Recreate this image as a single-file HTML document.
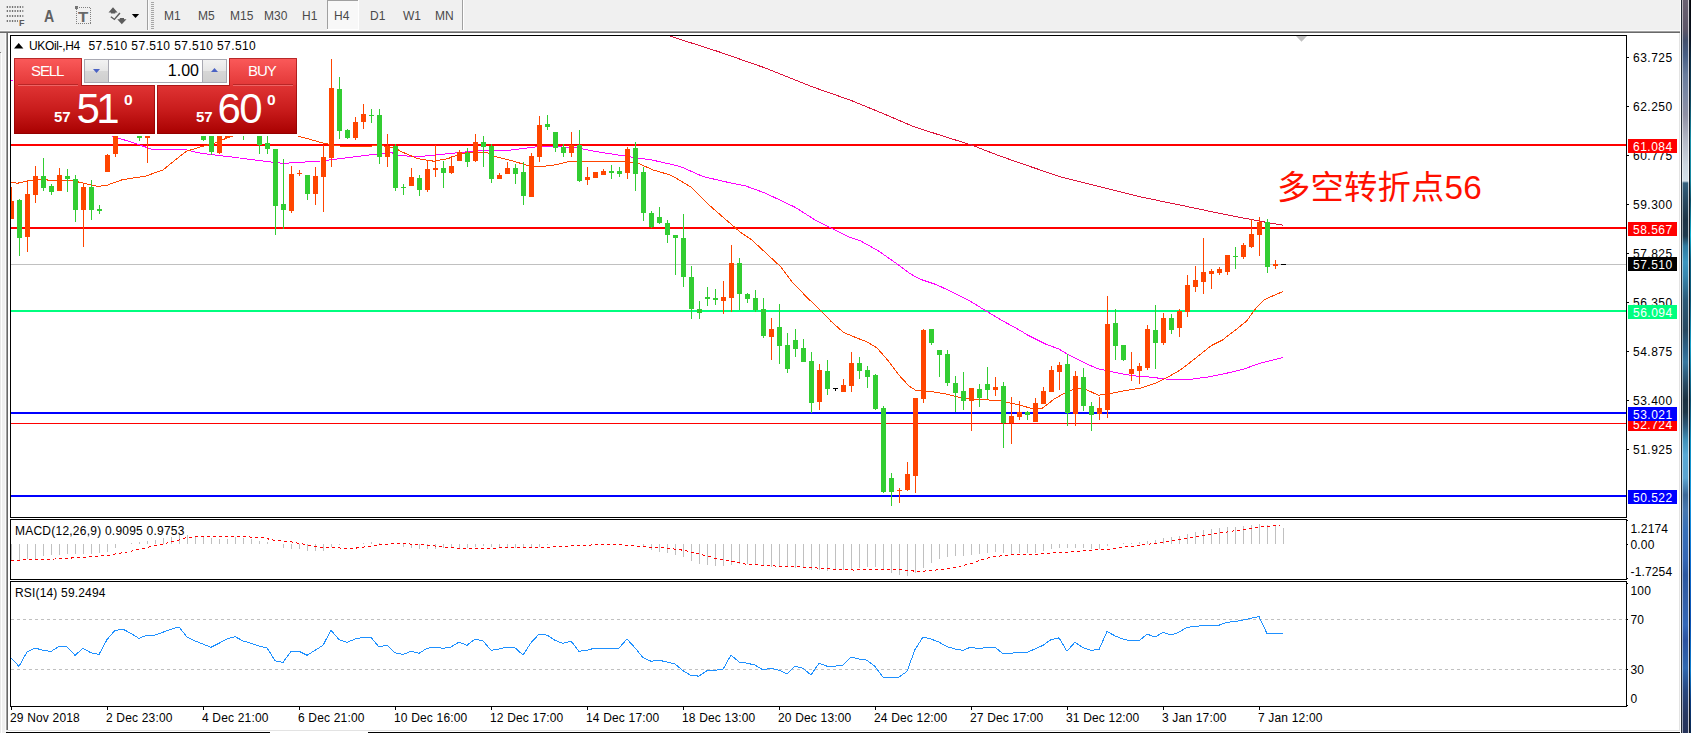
<!DOCTYPE html>
<html><head><meta charset="utf-8"><title>UKOil H4</title>
<style>
html,body{margin:0;padding:0}
body{width:1691px;height:733px;overflow:hidden;background:#f0f0f0;position:relative;font-family:"Liberation Sans",sans-serif}
.abs{position:absolute}
.ax text{font-family:"Liberation Sans",sans-serif;font-size:12px;fill:#000}
.axw text{font-family:"Liberation Sans",sans-serif;font-size:12px;fill:#fff;letter-spacing:0.5px}
.num text{letter-spacing:0.5px}
.lab text{letter-spacing:0.17px}
.tf{position:absolute;top:9px;font-size:12px;color:#4a4a4a;line-height:14px;white-space:nowrap}
.pn{position:absolute;color:#fff;white-space:nowrap}
</style></head><body>
<!-- toolbar -->
<div class="abs" style="left:0;top:30px;width:1681px;height:1px;background:#fafafa"></div>
<div class="abs" style="left:0;top:31px;width:1681px;height:1px;background:#a0a0a0"></div>
<div class="abs" style="left:0;top:32px;width:1681px;height:1px;background:#696969"></div>
<!-- chart window -->
<div class="abs" style="left:0;top:33px;width:5px;height:700px;background:#f0f0f0"></div>
<div class="abs" style="left:5px;top:33px;width:1px;height:699px;background:#fafafa"></div>
<div class="abs" style="left:6px;top:33px;width:1px;height:697px;background:#a0a0a0"></div>
<div class="abs" style="left:7px;top:33px;width:1px;height:697px;background:#696969"></div>
<div class="abs" style="left:8px;top:33px;width:1673px;height:699px;background:#fff"></div>
<div class="abs" style="left:0;top:53px;width:1px;height:680px;background:#e8e8e8"></div>
<div class="abs" style="left:0;top:52px;width:1px;height:1px;background:#808080"></div>
<div class="abs" style="left:1px;top:53px;width:1px;height:680px;background:#fff"></div>
<div class="abs" style="left:1679px;top:33px;width:1px;height:698px;background:#e3e3e3"></div>
<!-- bottom lines -->
<div class="abs" style="left:8px;top:730px;width:1672px;height:1px;background:#e3e3e3"></div>
<div class="abs" style="left:6px;top:732px;width:264px;height:1px;background:#000"></div>
<div class="abs" style="left:270px;top:732px;width:98px;height:1px;background:#fff"></div>
<div class="abs" style="left:368px;top:732px;width:1313px;height:1px;background:#000"></div>
<!-- toolbar items -->

<svg class="abs" style="left:0;top:0" width="480" height="32" shape-rendering="crispEdges">
<g stroke="#747474" stroke-width="2" stroke-dasharray="1.300 1.300" shape-rendering="auto">
<line x1="6.700" y1="7" x2="23.300" y2="7"/><line x1="6.700" y1="11" x2="23.300" y2="11"/><line x1="6.700" y1="16" x2="23.300" y2="16"/><line x1="6.700" y1="21" x2="18" y2="21"/>
</g>
<rect x="75" y="6" width="2.500" height="2.500" fill="#747474"/>
<g fill="none" stroke="#808080" stroke-dasharray="1 1"><rect x="76.500" y="7.500" width="14" height="16"/></g>
<g fill="#5c5c5c" shape-rendering="auto"><path d="M113 7.300L117.600 12.400H115.300V13.600H110.900V12.400H108.500Z"/><path d="M121.800 24.200L126.500 19.300H124V18H119.800V19.300H117.300Z"/><path d="M111.300 16.200L114.300 18.500L119.300 12.600L120.500 13.500L114.500 20.300L110.400 17.200Z"/></g>
<path d="M131.800 14H139.200L135.500 18.100Z" fill="#000" shape-rendering="auto"/>
<rect x="147" y="0" width="1" height="30" fill="#a0a0a0"/><rect x="148" y="0" width="1" height="30" fill="#fbfbfb"/>
<g fill="#a6a6a6"><rect x="151" y="2" width="3" height="1"/><rect x="151" y="4" width="3" height="1"/><rect x="151" y="6" width="3" height="1"/><rect x="151" y="8" width="3" height="1"/><rect x="151" y="10" width="3" height="1"/><rect x="151" y="12" width="3" height="1"/><rect x="151" y="14" width="3" height="1"/><rect x="151" y="16" width="3" height="1"/><rect x="151" y="18" width="3" height="1"/><rect x="151" y="20" width="3" height="1"/><rect x="151" y="22" width="3" height="1"/><rect x="151" y="24" width="3" height="1"/><rect x="151" y="26" width="3" height="1"/><rect x="151" y="28" width="3" height="1"/></g>
<rect x="328" y="1" width="30" height="28" fill="#f8f8f8"/><rect x="327" y="0" width="1" height="29" fill="#a0a0a0"/><rect x="327" y="0" width="31" height="1" fill="#a0a0a0"/><rect x="358" y="0" width="1" height="30" fill="#fff"/><rect x="327" y="29" width="32" height="1" fill="#fff"/>
<rect x="462" y="0" width="1" height="30" fill="#a0a0a0"/><rect x="463" y="0" width="1" height="30" fill="#fff"/>
</svg>
<div class="tf" style="left:19px;top:18.400px;font-size:9px;font-weight:bold;line-height:10px;color:#5a5a5a">F</div>
<div class="tf" style="left:44px;top:8px;font-size:16px;font-weight:bold;line-height:18px;color:#606060;transform:scaleX(0.88);transform-origin:0 0">A</div>
<div class="tf" style="left:78.200px;top:8.650px;font-size:14px;font-weight:bold;line-height:16px;color:#686868;transform:scaleX(1.2);transform-origin:0 0">T</div>
<div class="tf" style="left:164px">M1</div><div class="tf" style="left:198px">M5</div><div class="tf" style="left:230px">M15</div><div class="tf" style="left:264px">M30</div><div class="tf" style="left:302px">H1</div><div class="tf" style="left:334px">H4</div><div class="tf" style="left:370px">D1</div><div class="tf" style="left:403px">W1</div><div class="tf" style="left:435px">MN</div>

<svg class="abs" style="left:0;top:0" width="1691" height="733" viewBox="0 0 1691 733">
<defs>
<clipPath id="cm"><rect x="11" y="36" width="1615" height="481"/></clipPath>
<clipPath id="cd"><rect x="11" y="520" width="1615" height="59"/></clipPath>
<clipPath id="cr"><rect x="11" y="582" width="1615" height="124"/></clipPath>
</defs>
<g clip-path="url(#cm)" shape-rendering="crispEdges">
<rect x="11" y="264" width="1615" height="1" fill="#c0c0c0"/>
<rect x="11" y="144" width="1615" height="2" fill="#ff0000"/>
<rect x="11" y="227" width="1615" height="2" fill="#ff0000"/>
<rect x="11" y="310" width="1615" height="2" fill="#00ff7f"/>
<rect x="11" y="412" width="1615" height="2" fill="#0000ff"/>
<rect x="11" y="423" width="1615" height="1" fill="#ff0000"/>
<rect x="11" y="495" width="1615" height="2" fill="#0000ff"/>
<polyline points="669.3,35.9 718.0,51.5 765.0,67.9 811.7,86.6 850.8,100.3 882.0,113.1 913.2,126.4 944.5,136.6 971.8,145.1 999.0,155.7 1030.3,166.6 1061.5,177.1 1100.6,186.9 1139.6,196.7 1186.5,206.4 1225.5,214.6 1264.5,222.0 1283.3,225.2" fill="none" stroke="#dc143c" stroke-width="1" />
<polyline points="11.0,80.0 60.0,108.0 112.7,136.2 134.8,143.3 152.6,149.5 186.3,149.9 200.0,153.1 235.5,157.5 271.0,162.0 283.4,163.4 320.6,161.0 342.0,158.4 377.4,154.0 391.6,152.7 400.0,155.8 421.0,156.4 453.0,153.2 480.0,150.6 506.5,150.6 535.0,147.0 552.6,146.5 577.4,147.9 595.0,151.5 600.0,152.2 626.6,156.3 653.0,160.2 680.0,166.4 703.0,176.5 724.0,181.5 745.5,185.9 765.0,193.0 795.0,207.2 816.0,220.6 830.3,227.7 848.0,236.6 860.0,240.6 877.7,250.4 895.5,262.8 909.7,273.5 920.3,279.3 936.3,284.6 952.3,292.1 970.0,301.0 984.2,309.8 1002.0,320.5 1019.7,330.2 1028.6,335.6 1046.3,344.4 1058.7,348.9 1067.6,354.2 1084.2,362.8 1097.7,368.7 1115.5,372.6 1133.2,375.8 1151.0,377.2 1168.7,379.4 1190.0,379.4 1207.8,377.0 1225.5,373.5 1243.2,369.2 1261.0,363.0 1282.8,357.5" fill="none" stroke="#ff00ff" stroke-width="1" />
<polyline points="11.0,182.3 17.7,183.2 28.4,180.6 40.8,179.3 53.2,180.6 71.0,180.2 83.4,183.2 97.6,186.4 106.5,185.4 122.4,179.7 145.5,176.1 163.2,169.9 173.9,161.0 186.3,151.3 200.5,146.9 215.0,143.0 228.0,137.5 234.0,135.5 265.0,128.0 291.0,132.5 298.5,136.2 324.0,143.3 345.5,146.9 366.8,146.9 377.0,145.0 395.0,147.7 400.0,151.1 417.7,158.6 433.7,161.2 448.0,158.6 462.0,153.2 476.0,152.3 487.0,152.3 495.8,156.8 513.6,161.2 527.8,165.6 542.0,166.5 556.0,164.8 570.0,161.2 626.6,161.4 639.0,163.7 653.0,169.9 671.0,175.2 690.5,186.8 706.5,202.7 720.7,215.2 733.0,225.8 740.0,232.0 750.8,239.1 766.5,253.5 780.7,266.8 791.3,281.0 807.3,297.8 819.7,309.4 831.0,321.3 843.4,332.3 855.8,337.6 866.5,341.7 877.0,347.9 887.8,360.3 898.4,374.5 909.0,386.0 916.0,390.5 930.3,391.4 946.3,394.0 962.3,398.1 977.7,399.6 999.0,400.4 1016.8,404.5 1032.7,408.6 1042.5,408.1 1054.0,399.2 1066.5,392.1 1077.0,388.2 1086.0,389.4 1098.4,395.3 1110.0,393.6 1126.0,390.4 1140.3,388.2 1156.3,382.9 1167.0,377.6 1179.4,370.5 1193.6,359.8 1211.3,345.6 1222.0,340.3 1236.0,329.7 1246.8,320.8 1255.7,308.4 1264.5,299.5 1273.4,295.6 1283.0,291.5" fill="none" stroke="#ff4500" stroke-width="1" />
<rect x="11" y="187" width="1" height="32" fill="#ff4500"/>
<rect x="9" y="201" width="5" height="18" fill="#ff4500"/>
<rect x="19" y="199" width="1" height="57" fill="#32cd32"/>
<rect x="17" y="200" width="5" height="38" fill="#32cd32"/>
<rect x="27" y="181" width="1" height="71" fill="#ff4500"/>
<rect x="25" y="194" width="5" height="43" fill="#ff4500"/>
<rect x="35" y="166" width="1" height="37" fill="#ff4500"/>
<rect x="33" y="176" width="5" height="19" fill="#ff4500"/>
<rect x="43" y="158" width="1" height="33" fill="#32cd32"/>
<rect x="41" y="176" width="5" height="12" fill="#32cd32"/>
<rect x="51" y="184" width="1" height="11" fill="#32cd32"/>
<rect x="49" y="186" width="5" height="6" fill="#32cd32"/>
<rect x="59" y="168" width="1" height="23" fill="#ff4500"/>
<rect x="57" y="175" width="5" height="16" fill="#ff4500"/>
<rect x="67" y="169" width="1" height="23" fill="#32cd32"/>
<rect x="65" y="176" width="5" height="3" fill="#32cd32"/>
<rect x="75" y="175" width="1" height="47" fill="#32cd32"/>
<rect x="73" y="179" width="5" height="31" fill="#32cd32"/>
<rect x="83" y="183" width="1" height="64" fill="#ff4500"/>
<rect x="81" y="187" width="5" height="23" fill="#ff4500"/>
<rect x="91" y="180" width="1" height="40" fill="#32cd32"/>
<rect x="89" y="187" width="5" height="23" fill="#32cd32"/>
<rect x="99" y="205" width="1" height="9" fill="#32cd32"/>
<rect x="97" y="209" width="5" height="2" fill="#32cd32"/>
<rect x="107" y="154" width="1" height="18" fill="#ff4500"/>
<rect x="105" y="155" width="5" height="17" fill="#ff4500"/>
<rect x="115" y="120" width="1" height="37" fill="#ff4500"/>
<rect x="113" y="120" width="5" height="34" fill="#ff4500"/>
<rect x="139" y="120" width="1" height="21" fill="#32cd32"/>
<rect x="137" y="120" width="5" height="18" fill="#32cd32"/>
<rect x="147" y="120" width="1" height="43" fill="#ff4500"/>
<rect x="145" y="120" width="5" height="18" fill="#ff4500"/>
<rect x="203" y="120" width="1" height="21" fill="#32cd32"/>
<rect x="201" y="120" width="5" height="20" fill="#32cd32"/>
<rect x="211" y="120" width="1" height="35" fill="#32cd32"/>
<rect x="209" y="120" width="5" height="32" fill="#32cd32"/>
<rect x="219" y="120" width="1" height="34" fill="#ff4500"/>
<rect x="217" y="120" width="5" height="33" fill="#ff4500"/>
<rect x="227" y="120" width="1" height="18" fill="#ff4500"/>
<rect x="225" y="120" width="5" height="18" fill="#ff4500"/>
<rect x="243" y="120" width="1" height="20" fill="#32cd32"/>
<rect x="241" y="120" width="5" height="10" fill="#32cd32"/>
<rect x="259" y="120" width="1" height="34" fill="#32cd32"/>
<rect x="257" y="120" width="5" height="25" fill="#32cd32"/>
<rect x="267" y="120" width="1" height="34" fill="#32cd32"/>
<rect x="265" y="143" width="5" height="6" fill="#32cd32"/>
<rect x="275" y="149" width="1" height="86" fill="#32cd32"/>
<rect x="273" y="149" width="5" height="57" fill="#32cd32"/>
<rect x="283" y="159" width="1" height="70" fill="#32cd32"/>
<rect x="281" y="204" width="5" height="6" fill="#32cd32"/>
<rect x="291" y="166" width="1" height="47" fill="#ff4500"/>
<rect x="289" y="174" width="5" height="37" fill="#ff4500"/>
<rect x="299" y="170" width="1" height="6" fill="#ff4500"/>
<rect x="297" y="173" width="5" height="1" fill="#ff4500"/>
<rect x="307" y="175" width="1" height="25" fill="#32cd32"/>
<rect x="305" y="175" width="5" height="19" fill="#32cd32"/>
<rect x="315" y="167" width="1" height="38" fill="#ff4500"/>
<rect x="313" y="176" width="5" height="18" fill="#ff4500"/>
<rect x="323" y="145" width="1" height="67" fill="#ff4500"/>
<rect x="321" y="157" width="5" height="20" fill="#ff4500"/>
<rect x="331" y="59" width="1" height="108" fill="#ff4500"/>
<rect x="329" y="88" width="5" height="70" fill="#ff4500"/>
<rect x="339" y="77" width="1" height="62" fill="#32cd32"/>
<rect x="337" y="89" width="5" height="42" fill="#32cd32"/>
<rect x="347" y="129" width="1" height="10" fill="#32cd32"/>
<rect x="345" y="130" width="5" height="8" fill="#32cd32"/>
<rect x="355" y="117" width="1" height="23" fill="#ff4500"/>
<rect x="353" y="122" width="5" height="16" fill="#ff4500"/>
<rect x="363" y="104" width="1" height="25" fill="#ff4500"/>
<rect x="361" y="114" width="5" height="8" fill="#ff4500"/>
<rect x="371" y="109" width="1" height="14" fill="#32cd32"/>
<rect x="369" y="115" width="5" height="1" fill="#32cd32"/>
<rect x="379" y="109" width="1" height="55" fill="#32cd32"/>
<rect x="377" y="115" width="5" height="42" fill="#32cd32"/>
<rect x="387" y="134" width="1" height="33" fill="#ff4500"/>
<rect x="385" y="146" width="5" height="11" fill="#ff4500"/>
<rect x="395" y="144" width="1" height="47" fill="#32cd32"/>
<rect x="393" y="146" width="5" height="42" fill="#32cd32"/>
<rect x="403" y="184" width="1" height="11" fill="#32cd32"/>
<rect x="401" y="187" width="5" height="1" fill="#32cd32"/>
<rect x="411" y="168" width="1" height="18" fill="#ff4500"/>
<rect x="409" y="177" width="5" height="9" fill="#ff4500"/>
<rect x="419" y="175" width="1" height="21" fill="#32cd32"/>
<rect x="417" y="178" width="5" height="12" fill="#32cd32"/>
<rect x="427" y="160" width="1" height="32" fill="#ff4500"/>
<rect x="425" y="169" width="5" height="21" fill="#ff4500"/>
<rect x="435" y="145" width="1" height="32" fill="#ff4500"/>
<rect x="433" y="168" width="5" height="2" fill="#ff4500"/>
<rect x="443" y="161" width="1" height="27" fill="#32cd32"/>
<rect x="441" y="168" width="5" height="5" fill="#32cd32"/>
<rect x="451" y="156" width="1" height="18" fill="#ff4500"/>
<rect x="449" y="166" width="5" height="7" fill="#ff4500"/>
<rect x="459" y="150" width="1" height="11" fill="#ff4500"/>
<rect x="457" y="152" width="5" height="9" fill="#ff4500"/>
<rect x="467" y="148" width="1" height="19" fill="#32cd32"/>
<rect x="465" y="153" width="5" height="9" fill="#32cd32"/>
<rect x="475" y="134" width="1" height="28" fill="#ff4500"/>
<rect x="473" y="142" width="5" height="19" fill="#ff4500"/>
<rect x="483" y="136" width="1" height="31" fill="#32cd32"/>
<rect x="481" y="142" width="5" height="5" fill="#32cd32"/>
<rect x="491" y="144" width="1" height="39" fill="#32cd32"/>
<rect x="489" y="146" width="5" height="33" fill="#32cd32"/>
<rect x="499" y="173" width="1" height="6" fill="#ff4500"/>
<rect x="497" y="175" width="5" height="4" fill="#ff4500"/>
<rect x="507" y="162" width="1" height="12" fill="#ff4500"/>
<rect x="505" y="168" width="5" height="6" fill="#ff4500"/>
<rect x="515" y="164" width="1" height="20" fill="#32cd32"/>
<rect x="513" y="168" width="5" height="6" fill="#32cd32"/>
<rect x="523" y="162" width="1" height="43" fill="#32cd32"/>
<rect x="521" y="172" width="5" height="24" fill="#32cd32"/>
<rect x="531" y="153" width="1" height="44" fill="#ff4500"/>
<rect x="529" y="156" width="5" height="41" fill="#ff4500"/>
<rect x="539" y="116" width="1" height="46" fill="#ff4500"/>
<rect x="537" y="125" width="5" height="32" fill="#ff4500"/>
<rect x="547" y="115" width="1" height="15" fill="#32cd32"/>
<rect x="545" y="124" width="5" height="3" fill="#32cd32"/>
<rect x="555" y="132" width="1" height="20" fill="#32cd32"/>
<rect x="553" y="132" width="5" height="16" fill="#32cd32"/>
<rect x="563" y="144" width="1" height="13" fill="#32cd32"/>
<rect x="561" y="147" width="5" height="6" fill="#32cd32"/>
<rect x="571" y="132" width="1" height="25" fill="#ff4500"/>
<rect x="569" y="145" width="5" height="8" fill="#ff4500"/>
<rect x="579" y="130" width="1" height="52" fill="#32cd32"/>
<rect x="577" y="145" width="5" height="36" fill="#32cd32"/>
<rect x="587" y="167" width="1" height="18" fill="#ff4500"/>
<rect x="585" y="177" width="5" height="3" fill="#ff4500"/>
<rect x="595" y="172" width="1" height="6" fill="#ff4500"/>
<rect x="593" y="172" width="5" height="6" fill="#ff4500"/>
<rect x="603" y="169" width="1" height="6" fill="#ff4500"/>
<rect x="601" y="171" width="5" height="4" fill="#ff4500"/>
<rect x="611" y="165" width="1" height="14" fill="#32cd32"/>
<rect x="609" y="171" width="5" height="2" fill="#32cd32"/>
<rect x="619" y="167" width="1" height="10" fill="#32cd32"/>
<rect x="617" y="171" width="5" height="3" fill="#32cd32"/>
<rect x="627" y="147" width="1" height="32" fill="#ff4500"/>
<rect x="625" y="149" width="5" height="24" fill="#ff4500"/>
<rect x="635" y="142" width="1" height="49" fill="#32cd32"/>
<rect x="633" y="148" width="5" height="26" fill="#32cd32"/>
<rect x="643" y="167" width="1" height="54" fill="#32cd32"/>
<rect x="641" y="172" width="5" height="41" fill="#32cd32"/>
<rect x="651" y="211" width="1" height="17" fill="#32cd32"/>
<rect x="649" y="213" width="5" height="14" fill="#32cd32"/>
<rect x="659" y="207" width="1" height="17" fill="#32cd32"/>
<rect x="657" y="217" width="5" height="6" fill="#32cd32"/>
<rect x="667" y="220" width="1" height="23" fill="#32cd32"/>
<rect x="665" y="223" width="5" height="12" fill="#32cd32"/>
<rect x="675" y="235" width="1" height="40" fill="#32cd32"/>
<rect x="673" y="235" width="5" height="3" fill="#32cd32"/>
<rect x="683" y="214" width="1" height="73" fill="#32cd32"/>
<rect x="681" y="238" width="5" height="39" fill="#32cd32"/>
<rect x="691" y="266" width="1" height="53" fill="#32cd32"/>
<rect x="689" y="277" width="5" height="32" fill="#32cd32"/>
<rect x="699" y="301" width="1" height="18" fill="#32cd32"/>
<rect x="697" y="309" width="5" height="4" fill="#32cd32"/>
<rect x="707" y="287" width="1" height="19" fill="#32cd32"/>
<rect x="705" y="297" width="5" height="2" fill="#32cd32"/>
<rect x="715" y="289" width="1" height="16" fill="#32cd32"/>
<rect x="713" y="298" width="5" height="2" fill="#32cd32"/>
<rect x="723" y="281" width="1" height="33" fill="#ff4500"/>
<rect x="721" y="297" width="5" height="4" fill="#ff4500"/>
<rect x="731" y="245" width="1" height="67" fill="#ff4500"/>
<rect x="729" y="263" width="5" height="35" fill="#ff4500"/>
<rect x="739" y="258" width="1" height="52" fill="#32cd32"/>
<rect x="737" y="263" width="5" height="31" fill="#32cd32"/>
<rect x="747" y="293" width="1" height="10" fill="#32cd32"/>
<rect x="745" y="294" width="5" height="5" fill="#32cd32"/>
<rect x="755" y="290" width="1" height="22" fill="#32cd32"/>
<rect x="753" y="298" width="5" height="12" fill="#32cd32"/>
<rect x="763" y="298" width="1" height="40" fill="#32cd32"/>
<rect x="761" y="309" width="5" height="27" fill="#32cd32"/>
<rect x="771" y="318" width="1" height="42" fill="#ff4500"/>
<rect x="769" y="329" width="5" height="8" fill="#ff4500"/>
<rect x="779" y="304" width="1" height="60" fill="#32cd32"/>
<rect x="777" y="327" width="5" height="19" fill="#32cd32"/>
<rect x="787" y="333" width="1" height="40" fill="#32cd32"/>
<rect x="785" y="345" width="5" height="24" fill="#32cd32"/>
<rect x="795" y="329" width="1" height="28" fill="#32cd32"/>
<rect x="793" y="340" width="5" height="9" fill="#32cd32"/>
<rect x="803" y="339" width="1" height="23" fill="#32cd32"/>
<rect x="801" y="348" width="5" height="14" fill="#32cd32"/>
<rect x="811" y="352" width="1" height="61" fill="#32cd32"/>
<rect x="809" y="361" width="5" height="42" fill="#32cd32"/>
<rect x="819" y="364" width="1" height="46" fill="#ff4500"/>
<rect x="817" y="370" width="5" height="32" fill="#ff4500"/>
<rect x="827" y="360" width="1" height="35" fill="#32cd32"/>
<rect x="825" y="371" width="5" height="18" fill="#32cd32"/>
<rect x="835" y="388" width="1" height="3" fill="#000000"/>
<rect x="833" y="388" width="5" height="1" fill="#000000"/>
<rect x="843" y="379" width="1" height="13" fill="#ff4500"/>
<rect x="841" y="385" width="5" height="7" fill="#ff4500"/>
<rect x="851" y="352" width="1" height="40" fill="#ff4500"/>
<rect x="849" y="363" width="5" height="23" fill="#ff4500"/>
<rect x="859" y="357" width="1" height="22" fill="#32cd32"/>
<rect x="857" y="363" width="5" height="8" fill="#32cd32"/>
<rect x="867" y="366" width="1" height="22" fill="#32cd32"/>
<rect x="865" y="370" width="5" height="7" fill="#32cd32"/>
<rect x="875" y="374" width="1" height="36" fill="#32cd32"/>
<rect x="873" y="375" width="5" height="34" fill="#32cd32"/>
<rect x="883" y="406" width="1" height="87" fill="#32cd32"/>
<rect x="881" y="408" width="5" height="84" fill="#32cd32"/>
<rect x="891" y="473" width="1" height="33" fill="#32cd32"/>
<rect x="889" y="478" width="5" height="14" fill="#32cd32"/>
<rect x="899" y="488" width="1" height="15" fill="#ff4500"/>
<rect x="897" y="490" width="5" height="1" fill="#ff4500"/>
<rect x="907" y="462" width="1" height="29" fill="#ff4500"/>
<rect x="905" y="474" width="5" height="16" fill="#ff4500"/>
<rect x="915" y="398" width="1" height="95" fill="#ff4500"/>
<rect x="913" y="398" width="5" height="78" fill="#ff4500"/>
<rect x="923" y="329" width="1" height="74" fill="#ff4500"/>
<rect x="921" y="330" width="5" height="69" fill="#ff4500"/>
<rect x="931" y="329" width="1" height="16" fill="#32cd32"/>
<rect x="929" y="329" width="5" height="14" fill="#32cd32"/>
<rect x="939" y="350" width="1" height="27" fill="#32cd32"/>
<rect x="937" y="350" width="5" height="5" fill="#32cd32"/>
<rect x="947" y="350" width="1" height="36" fill="#32cd32"/>
<rect x="945" y="354" width="5" height="29" fill="#32cd32"/>
<rect x="955" y="376" width="1" height="36" fill="#32cd32"/>
<rect x="953" y="383" width="5" height="10" fill="#32cd32"/>
<rect x="963" y="372" width="1" height="38" fill="#32cd32"/>
<rect x="961" y="391" width="5" height="10" fill="#32cd32"/>
<rect x="971" y="388" width="1" height="43" fill="#ff4500"/>
<rect x="969" y="388" width="5" height="13" fill="#ff4500"/>
<rect x="979" y="384" width="1" height="23" fill="#32cd32"/>
<rect x="977" y="389" width="5" height="9" fill="#32cd32"/>
<rect x="987" y="367" width="1" height="32" fill="#32cd32"/>
<rect x="985" y="384" width="5" height="6" fill="#32cd32"/>
<rect x="995" y="377" width="1" height="19" fill="#ff4500"/>
<rect x="993" y="387" width="5" height="3" fill="#ff4500"/>
<rect x="1003" y="382" width="1" height="66" fill="#32cd32"/>
<rect x="1001" y="386" width="5" height="37" fill="#32cd32"/>
<rect x="1011" y="397" width="1" height="47" fill="#ff4500"/>
<rect x="1009" y="416" width="5" height="7" fill="#ff4500"/>
<rect x="1019" y="401" width="1" height="19" fill="#ff4500"/>
<rect x="1017" y="412" width="5" height="5" fill="#ff4500"/>
<rect x="1027" y="411" width="1" height="9" fill="#32cd32"/>
<rect x="1025" y="412" width="5" height="3" fill="#32cd32"/>
<rect x="1035" y="398" width="1" height="24" fill="#ff4500"/>
<rect x="1033" y="403" width="5" height="19" fill="#ff4500"/>
<rect x="1043" y="387" width="1" height="17" fill="#ff4500"/>
<rect x="1041" y="391" width="5" height="13" fill="#ff4500"/>
<rect x="1051" y="366" width="1" height="26" fill="#ff4500"/>
<rect x="1049" y="370" width="5" height="22" fill="#ff4500"/>
<rect x="1059" y="362" width="1" height="28" fill="#ff4500"/>
<rect x="1057" y="365" width="5" height="7" fill="#ff4500"/>
<rect x="1067" y="354" width="1" height="72" fill="#32cd32"/>
<rect x="1065" y="364" width="5" height="49" fill="#32cd32"/>
<rect x="1075" y="371" width="1" height="55" fill="#ff4500"/>
<rect x="1073" y="376" width="5" height="38" fill="#ff4500"/>
<rect x="1083" y="368" width="1" height="43" fill="#32cd32"/>
<rect x="1081" y="377" width="5" height="29" fill="#32cd32"/>
<rect x="1091" y="402" width="1" height="29" fill="#32cd32"/>
<rect x="1089" y="406" width="5" height="9" fill="#32cd32"/>
<rect x="1099" y="397" width="1" height="23" fill="#ff4500"/>
<rect x="1097" y="408" width="5" height="6" fill="#ff4500"/>
<rect x="1107" y="296" width="1" height="122" fill="#ff4500"/>
<rect x="1105" y="324" width="5" height="86" fill="#ff4500"/>
<rect x="1115" y="309" width="1" height="51" fill="#32cd32"/>
<rect x="1113" y="323" width="5" height="23" fill="#32cd32"/>
<rect x="1123" y="345" width="1" height="16" fill="#32cd32"/>
<rect x="1121" y="345" width="5" height="15" fill="#32cd32"/>
<rect x="1131" y="352" width="1" height="29" fill="#ff4500"/>
<rect x="1129" y="369" width="5" height="5" fill="#ff4500"/>
<rect x="1139" y="363" width="1" height="21" fill="#ff4500"/>
<rect x="1137" y="366" width="5" height="5" fill="#ff4500"/>
<rect x="1147" y="325" width="1" height="45" fill="#ff4500"/>
<rect x="1145" y="329" width="5" height="39" fill="#ff4500"/>
<rect x="1155" y="305" width="1" height="64" fill="#32cd32"/>
<rect x="1153" y="330" width="5" height="13" fill="#32cd32"/>
<rect x="1163" y="313" width="1" height="32" fill="#ff4500"/>
<rect x="1161" y="318" width="5" height="25" fill="#ff4500"/>
<rect x="1171" y="314" width="1" height="20" fill="#32cd32"/>
<rect x="1169" y="318" width="5" height="12" fill="#32cd32"/>
<rect x="1179" y="309" width="1" height="28" fill="#ff4500"/>
<rect x="1177" y="311" width="5" height="17" fill="#ff4500"/>
<rect x="1187" y="275" width="1" height="42" fill="#ff4500"/>
<rect x="1185" y="285" width="5" height="27" fill="#ff4500"/>
<rect x="1195" y="266" width="1" height="26" fill="#ff4500"/>
<rect x="1193" y="280" width="5" height="7" fill="#ff4500"/>
<rect x="1203" y="238" width="1" height="56" fill="#ff4500"/>
<rect x="1201" y="272" width="5" height="10" fill="#ff4500"/>
<rect x="1211" y="269" width="1" height="20" fill="#ff4500"/>
<rect x="1209" y="271" width="5" height="3" fill="#ff4500"/>
<rect x="1219" y="267" width="1" height="8" fill="#ff4500"/>
<rect x="1217" y="269" width="5" height="4" fill="#ff4500"/>
<rect x="1227" y="255" width="1" height="20" fill="#ff4500"/>
<rect x="1225" y="255" width="5" height="17" fill="#ff4500"/>
<rect x="1235" y="247" width="1" height="22" fill="#32cd32"/>
<rect x="1233" y="256" width="5" height="1" fill="#32cd32"/>
<rect x="1243" y="243" width="1" height="16" fill="#ff4500"/>
<rect x="1241" y="245" width="5" height="12" fill="#ff4500"/>
<rect x="1251" y="219" width="1" height="29" fill="#ff4500"/>
<rect x="1249" y="234" width="5" height="13" fill="#ff4500"/>
<rect x="1259" y="217" width="1" height="39" fill="#ff4500"/>
<rect x="1257" y="222" width="5" height="13" fill="#ff4500"/>
<rect x="1267" y="219" width="1" height="54" fill="#32cd32"/>
<rect x="1265" y="222" width="5" height="45" fill="#32cd32"/>
<rect x="1275" y="260" width="1" height="9" fill="#ff4500"/>
<rect x="1273" y="264" width="5" height="2" fill="#ff4500"/>
<rect x="1281" y="264" width="5" height="1" fill="#000000"/>
</g>
<g clip-path="url(#cd)" shape-rendering="crispEdges">
<rect x="11" y="544" width="1" height="16" fill="#c0c0c0"/>
<rect x="19" y="544" width="1" height="16" fill="#c0c0c0"/>
<rect x="27" y="544" width="1" height="15" fill="#c0c0c0"/>
<rect x="35" y="544" width="1" height="15" fill="#c0c0c0"/>
<rect x="43" y="544" width="1" height="12" fill="#c0c0c0"/>
<rect x="51" y="544" width="1" height="11" fill="#c0c0c0"/>
<rect x="59" y="544" width="1" height="11" fill="#c0c0c0"/>
<rect x="67" y="544" width="1" height="10" fill="#c0c0c0"/>
<rect x="75" y="544" width="1" height="10" fill="#c0c0c0"/>
<rect x="83" y="544" width="1" height="10" fill="#c0c0c0"/>
<rect x="91" y="544" width="1" height="10" fill="#c0c0c0"/>
<rect x="99" y="544" width="1" height="9" fill="#c0c0c0"/>
<rect x="107" y="544" width="1" height="8" fill="#c0c0c0"/>
<rect x="115" y="544" width="1" height="4" fill="#c0c0c0"/>
<rect x="131" y="543" width="1" height="1" fill="#c0c0c0"/>
<rect x="139" y="542" width="1" height="2" fill="#c0c0c0"/>
<rect x="147" y="541" width="1" height="3" fill="#c0c0c0"/>
<rect x="155" y="540" width="1" height="4" fill="#c0c0c0"/>
<rect x="163" y="538" width="1" height="6" fill="#c0c0c0"/>
<rect x="171" y="537" width="1" height="7" fill="#c0c0c0"/>
<rect x="179" y="535" width="1" height="9" fill="#c0c0c0"/>
<rect x="187" y="535" width="1" height="9" fill="#c0c0c0"/>
<rect x="195" y="537" width="1" height="7" fill="#c0c0c0"/>
<rect x="203" y="537" width="1" height="7" fill="#c0c0c0"/>
<rect x="211" y="538" width="1" height="6" fill="#c0c0c0"/>
<rect x="219" y="539" width="1" height="5" fill="#c0c0c0"/>
<rect x="227" y="539" width="1" height="5" fill="#c0c0c0"/>
<rect x="235" y="537" width="1" height="7" fill="#c0c0c0"/>
<rect x="243" y="538" width="1" height="6" fill="#c0c0c0"/>
<rect x="251" y="539" width="1" height="5" fill="#c0c0c0"/>
<rect x="259" y="541" width="1" height="3" fill="#c0c0c0"/>
<rect x="267" y="542" width="1" height="2" fill="#c0c0c0"/>
<rect x="283" y="544" width="1" height="4" fill="#c0c0c0"/>
<rect x="291" y="544" width="1" height="5" fill="#c0c0c0"/>
<rect x="299" y="544" width="1" height="5" fill="#c0c0c0"/>
<rect x="307" y="544" width="1" height="7" fill="#c0c0c0"/>
<rect x="315" y="544" width="1" height="7" fill="#c0c0c0"/>
<rect x="323" y="544" width="1" height="7" fill="#c0c0c0"/>
<rect x="331" y="544" width="1" height="3" fill="#c0c0c0"/>
<rect x="339" y="544" width="1" height="1" fill="#c0c0c0"/>
<rect x="363" y="543" width="1" height="1" fill="#c0c0c0"/>
<rect x="371" y="542" width="1" height="2" fill="#c0c0c0"/>
<rect x="379" y="543" width="1" height="1" fill="#c0c0c0"/>
<rect x="403" y="544" width="1" height="3" fill="#c0c0c0"/>
<rect x="411" y="544" width="1" height="4" fill="#c0c0c0"/>
<rect x="419" y="544" width="1" height="5" fill="#c0c0c0"/>
<rect x="427" y="544" width="1" height="5" fill="#c0c0c0"/>
<rect x="435" y="544" width="1" height="5" fill="#c0c0c0"/>
<rect x="443" y="544" width="1" height="4" fill="#c0c0c0"/>
<rect x="451" y="544" width="1" height="4" fill="#c0c0c0"/>
<rect x="459" y="544" width="1" height="4" fill="#c0c0c0"/>
<rect x="467" y="544" width="1" height="4" fill="#c0c0c0"/>
<rect x="475" y="544" width="1" height="3" fill="#c0c0c0"/>
<rect x="483" y="544" width="1" height="2" fill="#c0c0c0"/>
<rect x="491" y="544" width="1" height="3" fill="#c0c0c0"/>
<rect x="499" y="544" width="1" height="4" fill="#c0c0c0"/>
<rect x="507" y="544" width="1" height="4" fill="#c0c0c0"/>
<rect x="515" y="544" width="1" height="4" fill="#c0c0c0"/>
<rect x="523" y="544" width="1" height="4" fill="#c0c0c0"/>
<rect x="531" y="544" width="1" height="4" fill="#c0c0c0"/>
<rect x="539" y="544" width="1" height="3" fill="#c0c0c0"/>
<rect x="547" y="544" width="1" height="1" fill="#c0c0c0"/>
<rect x="643" y="544" width="1" height="2" fill="#c0c0c0"/>
<rect x="651" y="544" width="1" height="6" fill="#c0c0c0"/>
<rect x="659" y="544" width="1" height="8" fill="#c0c0c0"/>
<rect x="667" y="544" width="1" height="9" fill="#c0c0c0"/>
<rect x="675" y="544" width="1" height="11" fill="#c0c0c0"/>
<rect x="683" y="544" width="1" height="13" fill="#c0c0c0"/>
<rect x="691" y="544" width="1" height="17" fill="#c0c0c0"/>
<rect x="699" y="544" width="1" height="20" fill="#c0c0c0"/>
<rect x="707" y="544" width="1" height="21" fill="#c0c0c0"/>
<rect x="715" y="544" width="1" height="22" fill="#c0c0c0"/>
<rect x="723" y="544" width="1" height="22" fill="#c0c0c0"/>
<rect x="731" y="544" width="1" height="21" fill="#c0c0c0"/>
<rect x="739" y="544" width="1" height="20" fill="#c0c0c0"/>
<rect x="747" y="544" width="1" height="20" fill="#c0c0c0"/>
<rect x="755" y="544" width="1" height="21" fill="#c0c0c0"/>
<rect x="763" y="544" width="1" height="22" fill="#c0c0c0"/>
<rect x="771" y="544" width="1" height="23" fill="#c0c0c0"/>
<rect x="779" y="544" width="1" height="23" fill="#c0c0c0"/>
<rect x="787" y="544" width="1" height="23" fill="#c0c0c0"/>
<rect x="795" y="544" width="1" height="24" fill="#c0c0c0"/>
<rect x="803" y="544" width="1" height="24" fill="#c0c0c0"/>
<rect x="811" y="544" width="1" height="26" fill="#c0c0c0"/>
<rect x="819" y="544" width="1" height="26" fill="#c0c0c0"/>
<rect x="827" y="544" width="1" height="27" fill="#c0c0c0"/>
<rect x="835" y="544" width="1" height="26" fill="#c0c0c0"/>
<rect x="843" y="544" width="1" height="26" fill="#c0c0c0"/>
<rect x="851" y="544" width="1" height="25" fill="#c0c0c0"/>
<rect x="859" y="544" width="1" height="24" fill="#c0c0c0"/>
<rect x="867" y="544" width="1" height="23" fill="#c0c0c0"/>
<rect x="875" y="544" width="1" height="23" fill="#c0c0c0"/>
<rect x="883" y="544" width="1" height="26" fill="#c0c0c0"/>
<rect x="891" y="544" width="1" height="29" fill="#c0c0c0"/>
<rect x="899" y="544" width="1" height="31" fill="#c0c0c0"/>
<rect x="907" y="544" width="1" height="32" fill="#c0c0c0"/>
<rect x="915" y="544" width="1" height="29" fill="#c0c0c0"/>
<rect x="923" y="544" width="1" height="24" fill="#c0c0c0"/>
<rect x="931" y="544" width="1" height="19" fill="#c0c0c0"/>
<rect x="939" y="544" width="1" height="15" fill="#c0c0c0"/>
<rect x="947" y="544" width="1" height="13" fill="#c0c0c0"/>
<rect x="955" y="544" width="1" height="12" fill="#c0c0c0"/>
<rect x="963" y="544" width="1" height="12" fill="#c0c0c0"/>
<rect x="971" y="544" width="1" height="11" fill="#c0c0c0"/>
<rect x="979" y="544" width="1" height="10" fill="#c0c0c0"/>
<rect x="987" y="544" width="1" height="9" fill="#c0c0c0"/>
<rect x="995" y="544" width="1" height="8" fill="#c0c0c0"/>
<rect x="1003" y="544" width="1" height="9" fill="#c0c0c0"/>
<rect x="1011" y="544" width="1" height="10" fill="#c0c0c0"/>
<rect x="1019" y="544" width="1" height="9" fill="#c0c0c0"/>
<rect x="1027" y="544" width="1" height="9" fill="#c0c0c0"/>
<rect x="1035" y="544" width="1" height="9" fill="#c0c0c0"/>
<rect x="1043" y="544" width="1" height="7" fill="#c0c0c0"/>
<rect x="1051" y="544" width="1" height="5" fill="#c0c0c0"/>
<rect x="1059" y="544" width="1" height="4" fill="#c0c0c0"/>
<rect x="1067" y="544" width="1" height="4" fill="#c0c0c0"/>
<rect x="1075" y="544" width="1" height="4" fill="#c0c0c0"/>
<rect x="1083" y="544" width="1" height="4" fill="#c0c0c0"/>
<rect x="1091" y="544" width="1" height="5" fill="#c0c0c0"/>
<rect x="1099" y="544" width="1" height="5" fill="#c0c0c0"/>
<rect x="1107" y="544" width="1" height="2" fill="#c0c0c0"/>
<rect x="1123" y="543" width="1" height="1" fill="#c0c0c0"/>
<rect x="1131" y="543" width="1" height="1" fill="#c0c0c0"/>
<rect x="1139" y="542" width="1" height="2" fill="#c0c0c0"/>
<rect x="1147" y="541" width="1" height="3" fill="#c0c0c0"/>
<rect x="1155" y="540" width="1" height="4" fill="#c0c0c0"/>
<rect x="1163" y="538" width="1" height="6" fill="#c0c0c0"/>
<rect x="1171" y="537" width="1" height="7" fill="#c0c0c0"/>
<rect x="1179" y="536" width="1" height="8" fill="#c0c0c0"/>
<rect x="1187" y="534" width="1" height="10" fill="#c0c0c0"/>
<rect x="1195" y="532" width="1" height="12" fill="#c0c0c0"/>
<rect x="1203" y="530" width="1" height="14" fill="#c0c0c0"/>
<rect x="1211" y="529" width="1" height="15" fill="#c0c0c0"/>
<rect x="1219" y="528" width="1" height="16" fill="#c0c0c0"/>
<rect x="1227" y="527" width="1" height="17" fill="#c0c0c0"/>
<rect x="1235" y="527" width="1" height="17" fill="#c0c0c0"/>
<rect x="1243" y="526" width="1" height="18" fill="#c0c0c0"/>
<rect x="1251" y="525" width="1" height="19" fill="#c0c0c0"/>
<rect x="1259" y="524" width="1" height="20" fill="#c0c0c0"/>
<rect x="1267" y="525" width="1" height="19" fill="#c0c0c0"/>
<rect x="1275" y="526" width="1" height="18" fill="#c0c0c0"/>
<rect x="1283" y="528" width="1" height="16" fill="#c0c0c0"/>
<polyline points="11.0,560.3 54.6,559.0 82.0,557.4 107.3,555.4 128.8,551.7 146.4,547.6 165.9,543.3 181.5,539.4 187.4,537.1 214.7,536.5 238.0,536.5 261.5,537.5 273.2,540.0 288.8,541.4 304.4,544.3 323.0,547.8 355.0,548.2 366.8,546.7 384.4,544.3 404.0,543.2 411.7,544.3 429.3,545.3 445.0,547.2 460.5,548.2 491.7,548.2 515.0,547.2 546.4,547.2 564.0,546.3 593.2,544.9 612.7,544.3 632.3,545.7 650.0,547.2 659.5,547.2 683.0,550.2 698.5,553.7 714.2,558.0 733.7,561.5 745.4,564.2 765.0,565.2 780.5,566.4 811.7,567.4 819.5,568.3 835.2,569.3 854.7,570.1 874.2,569.3 893.7,569.7 909.3,570.3 917.0,571.6 928.8,570.7 942.5,569.3 960.0,566.3 971.7,563.4 979.5,560.3 989.3,557.6 1003.0,555.6 1018.5,554.1 1038.0,554.1 1053.7,552.7 1069.3,552.1 1085.0,550.6 1108.3,549.2 1122.0,547.2 1135.6,545.9 1155.2,543.3 1174.7,540.4 1194.2,537.1 1213.7,534.0 1233.2,531.0 1252.7,528.3 1264.4,526.4 1280.0,525.4" fill="none" stroke="#ff0000" stroke-width="1" stroke-dasharray="3 3"/>
</g>
<g clip-path="url(#cr)" shape-rendering="crispEdges">
<line x1="11" y1="619.5" x2="1626" y2="619.5" stroke="#c0c0c0" stroke-dasharray="3 3"/>
<line x1="11" y1="669.5" x2="1626" y2="669.5" stroke="#c0c0c0" stroke-dasharray="3 3"/>
<polyline points="11.0,657.7 19.0,666.4 27.0,652.0 35.0,648.0 43.0,650.3 51.0,651.5 59.0,646.3 67.0,647.0 75.0,655.3 83.0,648.3 91.0,652.8 99.0,654.5 107.0,639.6 115.0,630.4 123.0,629.2 131.0,633.4 139.0,638.4 147.0,635.1 155.0,635.1 163.0,632.2 171.0,629.2 179.0,626.9 187.0,637.1 195.0,640.9 203.0,644.1 211.0,647.3 219.0,643.3 227.0,638.9 235.0,636.6 243.0,640.9 251.0,643.3 259.0,646.1 267.0,647.8 275.0,660.7 283.0,662.5 291.0,651.3 299.0,651.3 307.0,655.3 315.0,650.3 323.0,645.3 331.0,630.2 339.0,639.6 347.0,642.3 355.0,639.1 363.0,637.4 371.0,637.4 379.0,647.0 387.0,645.0 395.0,652.8 403.0,654.5 411.0,651.3 419.0,653.3 427.0,648.3 435.0,647.0 443.0,648.3 451.0,647.0 459.0,642.1 467.0,645.3 475.0,639.1 483.0,640.9 491.0,650.3 499.0,649.0 507.0,647.0 515.0,647.8 523.0,655.0 531.0,642.8 539.0,634.1 547.0,635.1 555.0,640.4 563.0,643.3 571.0,641.1 579.0,651.3 587.0,650.3 595.0,648.0 603.0,648.0 611.0,648.0 619.0,648.0 627.0,639.1 635.0,647.8 643.0,657.7 651.0,661.2 659.0,660.2 667.0,662.0 675.0,664.0 683.0,670.7 691.0,675.6 699.0,676.1 707.0,670.7 715.0,670.2 723.0,669.4 731.0,655.0 739.0,662.0 747.0,663.2 755.0,665.0 763.0,669.9 771.0,668.2 779.0,670.2 787.0,673.9 795.0,666.2 803.0,668.2 811.0,675.1 819.0,663.2 827.0,666.2 835.0,666.2 843.0,665.0 851.0,657.2 859.0,659.0 867.0,660.2 875.0,666.4 883.0,677.1 891.0,677.1 899.0,677.1 907.0,671.4 915.0,649.5 923.0,637.1 931.0,639.1 939.0,642.1 947.0,646.6 955.0,649.0 963.0,650.3 971.0,647.0 979.0,649.0 987.0,647.0 995.0,647.0 1003.0,654.0 1011.0,653.3 1019.0,652.3 1027.0,652.3 1035.0,649.0 1043.0,645.3 1051.0,639.6 1059.0,637.9 1067.0,651.3 1075.0,642.1 1083.0,647.8 1091.0,650.3 1099.0,649.5 1107.0,631.4 1115.0,635.9 1123.0,639.1 1131.0,640.9 1139.0,640.9 1147.0,634.1 1155.0,637.1 1163.0,632.2 1171.0,635.1 1179.0,632.2 1187.0,627.2 1195.0,626.7 1203.0,625.2 1211.0,625.2 1219.0,625.2 1227.0,622.2 1235.0,621.7 1243.0,620.0 1251.0,618.3 1259.0,616.6 1267.0,633.5 1275.0,633.5 1283.0,633.5" fill="none" stroke="#1e90ff" stroke-width="1" />
</g>
<g shape-rendering="crispEdges" fill="none" stroke="#000">
<path d="M10.5 517.5V35.5H1626.5V517.5" />
<path d="M10.5 517.5H1626.5" />
<rect x="10.5" y="519.5" width="1616" height="60"/>
<rect x="10.5" y="581.5" width="1616" height="125"/>
</g>
<g shape-rendering="crispEdges" fill="#000">
<rect x="1627" y="57" width="2" height="1"/>
<rect x="1627" y="106" width="2" height="1"/>
<rect x="1627" y="155" width="2" height="1"/>
<rect x="1627" y="204" width="2" height="1"/>
<rect x="1627" y="253" width="2" height="1"/>
<rect x="1627" y="302" width="2" height="1"/>
<rect x="1627" y="351" width="2" height="1"/>
<rect x="1627" y="400" width="2" height="1"/>
<rect x="1627" y="449" width="2" height="1"/>
<rect x="1627" y="520" width="1" height="1"/>
<rect x="1627" y="544" width="1" height="1"/>
<rect x="1627" y="578" width="1" height="1"/>
<rect x="1627" y="583" width="1" height="1"/>
<rect x="1627" y="619" width="1" height="1"/>
<rect x="1627" y="669" width="1" height="1"/>
<rect x="1627" y="705" width="1" height="1"/>
<rect x="11" y="707" width="1" height="3"/>
<rect x="107" y="707" width="1" height="3"/>
<rect x="203" y="707" width="1" height="3"/>
<rect x="299" y="707" width="1" height="3"/>
<rect x="395" y="707" width="1" height="3"/>
<rect x="491" y="707" width="1" height="3"/>
<rect x="587" y="707" width="1" height="3"/>
<rect x="683" y="707" width="1" height="3"/>
<rect x="779" y="707" width="1" height="3"/>
<rect x="875" y="707" width="1" height="3"/>
<rect x="971" y="707" width="1" height="3"/>
<rect x="1067" y="707" width="1" height="3"/>
<rect x="1163" y="707" width="1" height="3"/>
<rect x="1259" y="707" width="1" height="3"/>
</g>
<g class="ax num">
<text x="1633" y="61.5">63.725</text>
<text x="1633" y="110.5">62.250</text>
<text x="1633" y="159.5">60.775</text>
<text x="1633" y="208.5">59.300</text>
<text x="1633" y="257.5">57.825</text>
<text x="1633" y="306.5">56.350</text>
<text x="1633" y="355.5">54.875</text>
<text x="1633" y="404.5">53.400</text>
<text x="1633" y="453.5">51.925</text>
<text x="1630.5" y="533" style="letter-spacing:0.15px">1.2174</text>
<text x="1630.5" y="548.5" style="letter-spacing:0.15px">0.00</text>
<text x="1630.5" y="575.7" style="letter-spacing:0.15px">-1.7254</text>
<text x="1630.5" y="594.5" style="letter-spacing:0.15px">100</text>
<text x="1630.5" y="624" style="letter-spacing:0.15px">70</text>
<text x="1630.5" y="673.8" style="letter-spacing:0.15px">30</text>
<text x="1630.5" y="702.6" style="letter-spacing:0.15px">0</text>
</g><g class="ax lab">
<text x="10" y="722">29 Nov 2018</text>
<text x="106" y="722">2 Dec 23:00</text>
<text x="202" y="722">4 Dec 21:00</text>
<text x="298" y="722">6 Dec 21:00</text>
<text x="394" y="722">10 Dec 16:00</text>
<text x="490" y="722">12 Dec 17:00</text>
<text x="586" y="722">14 Dec 17:00</text>
<text x="682" y="722">18 Dec 13:00</text>
<text x="778" y="722">20 Dec 13:00</text>
<text x="874" y="722">24 Dec 12:00</text>
<text x="970" y="722">27 Dec 17:00</text>
<text x="1066" y="722">31 Dec 12:00</text>
<text x="1162" y="722">3 Jan 17:00</text>
<text x="1258" y="722">7 Jan 12:00</text>
<text x="15" y="535" style="letter-spacing:0.23px">MACD(12,26,9) 0.9095 0.9753</text>
<text x="15" y="597">RSI(14) 59.2494</text>
<text x="29" y="50"><tspan style="letter-spacing:-0.35px">UKOil-,H4</tspan><tspan x="88.5" style="letter-spacing:0.4px">57.510 57.510 57.510 57.510</tspan></text>
</g>
<path d="M14 48.5L18.7 43L23.4 48.5Z" fill="#000"/>
<g class="axw">
<rect x="1628" y="139" width="49" height="14" fill="#ff0000" shape-rendering="crispEdges"/><text x="1633" y="151">61.084</text>
<rect x="1628" y="222" width="49" height="14" fill="#ff0000" shape-rendering="crispEdges"/><text x="1633" y="234">58.567</text>
<rect x="1628" y="257" width="49" height="14" fill="#000000" shape-rendering="crispEdges"/><text x="1633" y="269">57.510</text>
<rect x="1628" y="305" width="49" height="14" fill="#00ff7f" shape-rendering="crispEdges"/><text x="1633" y="317">56.094</text>
<rect x="1628" y="417" width="49" height="14" fill="#ff0000" shape-rendering="crispEdges"/><text x="1633" y="429">52.724</text>
<rect x="1628" y="407" width="49" height="14" fill="#0000ff" shape-rendering="crispEdges"/><text x="1633" y="419">53.021</text>
<rect x="1628" y="490" width="49" height="14" fill="#0000ff" shape-rendering="crispEdges"/><text x="1633" y="502">50.522</text>
</g>
<path d="M1296 36H1307L1301.5 41.8Z" fill="#c0c0c0"/>
<text x="1277" y="198.7" font-size="33.3" fill="#ff1000" style="letter-spacing:0.2px;font-family:'Liberation Sans','Noto Sans CJK SC',sans-serif">多空转折点56</text>
</svg>

<div class="abs" style="left:13px;top:56px;width:285px;height:80px;background:#fff"></div>
<div class="abs" style="left:14px;top:58px;width:68px;height:27px;background:linear-gradient(#fb5a5a,#e33838)"></div>
<div class="abs" style="left:229px;top:58px;width:68px;height:27px;background:linear-gradient(#fb5a5a,#e33838)"></div>
<div class="abs" style="left:14px;top:85px;width:141px;height:49px;background:linear-gradient(#e03434,#c91c1c 50%,#a80000)"></div>
<div class="abs" style="left:157px;top:85px;width:140px;height:49px;background:linear-gradient(#e03434,#c91c1c 50%,#a80000)"></div>
<div class="abs" style="left:18px;top:84px;width:60px;height:1px;background:#b82626"></div>
<div class="abs" style="left:18px;top:85px;width:60px;height:1px;background:#ee6464"></div>
<div class="abs" style="left:233px;top:84px;width:60px;height:1px;background:#b82626"></div>
<div class="abs" style="left:233px;top:85px;width:60px;height:1px;background:#ee6464"></div>
<div class="abs" style="left:82px;top:58px;width:147px;height:27px;background:#fff"></div>
<div class="abs" style="left:84px;top:59px;width:143px;height:24px;box-sizing:border-box;border:1px solid #a9a9b2;background:#fff"></div>
<div class="abs" style="left:85px;top:60px;width:23px;height:22px;background:linear-gradient(#f2f2f2,#e6e6e6 48%,#d6d6d6 52%,#cfcfcf)"></div>
<div class="abs" style="left:203px;top:60px;width:23px;height:22px;background:linear-gradient(#f2f2f2,#e6e6e6 48%,#d6d6d6 52%,#cfcfcf)"></div>
<div class="abs" style="left:108px;top:60px;width:1px;height:22px;background:#a9a9b2"></div>
<div class="abs" style="left:202px;top:60px;width:1px;height:22px;background:#a9a9b2"></div>
<svg class="abs" style="left:0;top:0" width="300" height="140"><g fill="none" stroke="rgba(130,0,0,0.55)" stroke-width="1"><path d="M14.500 58.500H81.500V85.500H154.500V133.500H14.500Z"/><path d="M296.500 58.500H229.500V85.500H157.500V133.500H296.500Z"/></g></svg>
<svg class="abs" style="left:84px;top:58px" width="143" height="25"><path d="M9 11H16L12.5 15Z" fill="#4a62c4"/><path d="M127 14H134L130.500 10Z" fill="#4a62c4"/></svg>
<div class="abs" style="left:109px;top:62px;width:90px;text-align:right;font-size:16px;line-height:17px;color:#000">1.00</div>
<div class="pn" style="left:31px;top:62px;font-size:15px;line-height:18px;letter-spacing:-1.1px">SELL</div>
<div class="pn" style="left:248px;top:62px;font-size:15px;line-height:18px;letter-spacing:-1px">BUY</div>
<div class="pn" style="left:54px;top:109px;font-size:15px;line-height:16px;font-weight:bold">57</div>
<div class="pn" style="left:76.500px;top:85px;font-size:42px;line-height:47px;letter-spacing:-3.500px">51</div>
<div class="pn" style="left:124px;top:91px;font-size:15.500px;line-height:17px;font-weight:bold">0</div>
<div class="pn" style="left:196px;top:109px;font-size:15px;line-height:16px;font-weight:bold">57</div>
<div class="pn" style="left:217.500px;top:85px;font-size:42px;line-height:47px;letter-spacing:-1.500px">60</div>
<div class="pn" style="left:267px;top:91px;font-size:15.500px;line-height:17px;font-weight:bold">0</div>


<div class="abs" style="left:1680px;top:0;width:1px;height:733px;background:#fff"></div>
<div class="abs" style="left:1681px;top:0;width:8px;height:733px;background:linear-gradient(#6a6272 0px,#5c5668 30px,#44506c 40px,#485e84 55px,#6a7c9c 75px,#7c88a4 95px,#9090a4 115px,#b4b8c6 140px,#ccd6e0 165px,#d4e0ea 181px,#34607e 183px,#2a4a62 200px,#1e3446 220px,#203a4e 236px,#2f7aa0 246px,#3c96c0 262px,#3888b0 275px,#2c5a78 300px,#284860 330px,#306890 352px,#3878a0 362px,#284860 385px,#1c3040 400px,#1e3648 412px,#2c5878 425px,#4090b8 440px,#58a8d4 455px,#5ca4d0 478px,#3c6898 495px,#4878b0 510px,#3870b8 530px,#3466b4 560px,#2c58a0 575px,#3460a8 600px,#3468b8 625px,#2c52a0 640px,#3068b0 668px,#284880 690px,#283860 715px,#26345a 733px)"></div>
<div class="abs" style="left:1681px;top:0;width:1px;height:733px;background:#222a34"></div>
<div class="abs" style="left:1682px;top:0;width:1px;height:733px;background:rgba(255,255,255,0.55)"></div>
<div class="abs" style="left:1688px;top:0;width:1px;height:733px;background:rgba(255,255,255,0.7)"></div>
<div class="abs" style="left:1689px;top:0;width:1px;height:733px;background:#10161e"></div>
<div class="abs" style="left:1690px;top:0;width:1px;height:733px;background:linear-gradient(#05050a 0px,#0a1424 40px,#0c3048 60px,#104860 100px,#1890a8 140px,#1888a0 180px,#0c5068 200px,#10b0d0 235px,#0c6080 260px,#0c5878 300px,#18a0c8 345px,#0c5070 400px,#1090c0 440px,#1898e0 500px,#1070d0 560px,#0c50b0 620px,#1080d0 670px,#0c3c80 700px,#0a2850 733px)"></div>

</body></html>
